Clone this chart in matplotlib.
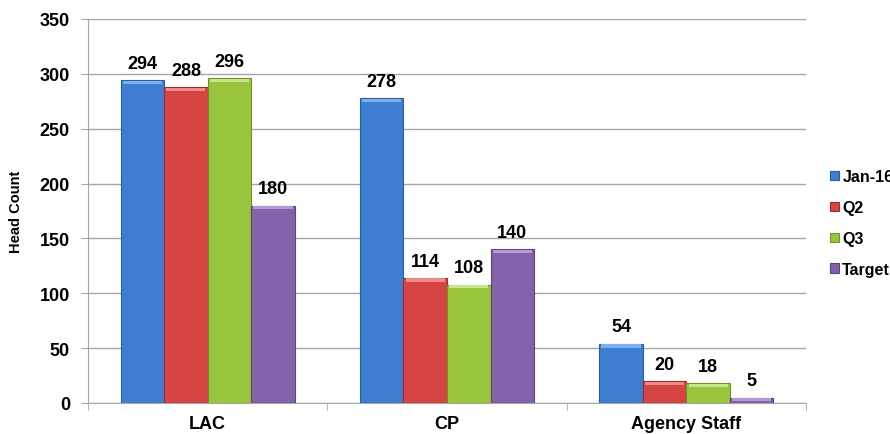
import numpy as np
import matplotlib
matplotlib.use("Agg")
import matplotlib.pyplot as plt

# Chart data
categories = ["LAC", "CP", "Agency Staff"]
series_names = ["Jan-16", "Q2", "Q3", "Target"]
jan16 = [294, 278, 54]
q2 = [288, 114, 20]
q3 = [296, 108, 18]
target = [180, 140, 5]

colors = ["#3D7ED2", "#D64444", "#98C53C", "#8262AA"]
edges = ["#2A5E9E", "#9E2E2E", "#6E9228", "#5A4480"]
highlights = ["#7FB0EA", "#EE8A8A", "#C8E58A", "#B39AD0"]

plt.rcParams['font.family'] = ['Liberation Sans', 'DejaVu Sans']

fig = plt.figure(figsize=(8.9, 4.35), dpi=100)
ax = fig.add_axes([88 / 890, 1 - 404 / 435, (806 - 88) / 890, (404 - 20) / 435])

x = np.arange(len(categories))
w = 0.182
all_series = [jan16, q2, q3, target]

for i, vals in enumerate(all_series):
    pos = x + (i - 1.5) * w
    ax.bar(pos, vals, w, color=colors[i], edgecolor=edges[i], linewidth=0.8,
           label=series_names[i], zorder=3)
    # light bevel on top of each bar
    ax.bar(pos, [min(3, v * 0.5) for v in vals], w * 0.9,
           bottom=[v - min(3, v * 0.5) - 0.5 for v in vals],
           color=highlights[i], linewidth=0, zorder=4)
    for p, v in zip(pos, vals):
        ax.annotate(str(v), (p, v), xytext=(0, 6), textcoords="offset points",
                    ha="center", va="bottom", fontsize=13, fontweight="bold")

ax.set_xlim(-0.5, 2.5)
ax.set_ylim(0, 350)
ax.set_yticks(np.arange(0, 351, 50))
ax.yaxis.grid(True, color="#A6A6A6", linewidth=1)
ax.set_axisbelow(True)

ax.set_xticks(x)
ax.set_xticklabels(categories, fontsize=13, fontweight="bold")
ax.set_xticks([-0.5, 0.5, 1.5, 2.5], minor=True)
ax.tick_params(axis="x", which="major", length=0, pad=9)
ax.tick_params(axis="x", which="minor", length=5, color="#A6A6A6", direction="out")
ax.tick_params(axis="y", length=5, color="#A6A6A6", labelsize=13, pad=8)
for lab in ax.get_yticklabels():
    lab.set_fontweight("bold")

for s in ["top", "right"]:
    ax.spines[s].set_visible(False)
for s in ["left", "bottom"]:
    ax.spines[s].set_color("#A6A6A6")

ax.set_ylabel("Head Count", fontsize=10.5, fontweight="bold", labelpad=12)

fig.legend(loc="center left", bbox_to_anchor=(824 / 890, 1 - 224 / 435),
           frameon=False, prop={"weight": "bold", "size": 11.5},
           handlelength=0.55, handleheight=0.55, handletextpad=0.2,
           labelspacing=1.0, borderaxespad=0)

fig.savefig("out.png", dpi=100)
